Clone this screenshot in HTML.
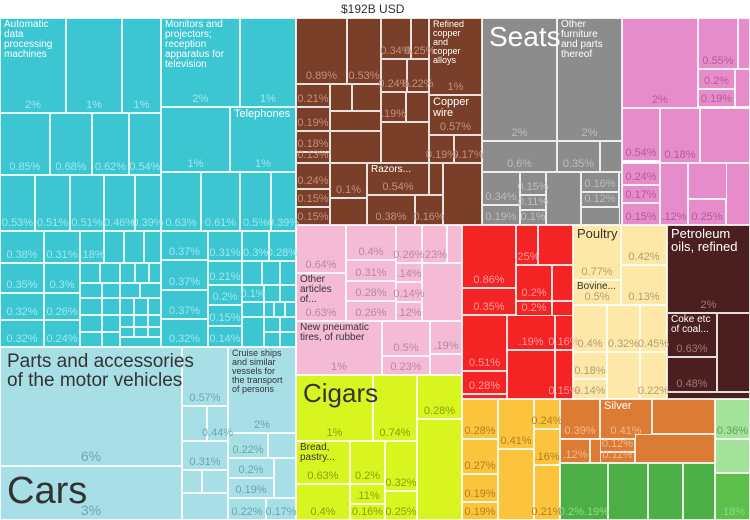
<!DOCTYPE html>
<html><head><meta charset="utf-8"><style>
body{margin:0;width:750px;height:520px;background:#fff;position:relative;overflow:hidden;font-family:"Liberation Sans",sans-serif}
.c{position:absolute;box-sizing:border-box;border:1px solid rgba(255,255,255,.85)}
.t{position:absolute;left:3px;top:1px;line-height:1.0;white-space:pre;z-index:2}
.p{position:absolute;left:-20px;right:-20px;bottom:1px;text-align:center;font-size:11px;white-space:nowrap;z-index:1}
#title{position:absolute;left:341px;top:2px;font-size:12px;color:#333}
</style></head><body>
<div id="title">$192B USD</div>
<div id="tm"></div>
<script>
const T='#3cc6d2',L='#a8dfe7',B='#7a3f28',G='#8c8c8c',K='#e78ccb',P='#f4bad6',R='#f42424',Y='#fde8a8',D='#4b1f1f',Z='#d9f520',O='#fcc43c',C='#dc7b34',N='#4caf45',E='#a3e39a',F='#5cc04a';
const tc={[T]:'#9ee8ef',[L]:'#6aa6b0',[B]:'#c09080',[G]:'#bdbdbd',[K]:'#b65a9a',[P]:'#b58aa0',[R]:'#ff9a9a',[Y]:'#b0a070',[D]:'#a07878',[Z]:'#8aa010',[O]:'#b08020',[C]:'#f5b890',[N]:'#90d88a',[E]:'#60a060',[F]:'#90d88a'};
const rects=[
[0,18,66,95,T,'Automatic\ndata\nprocessing\nmachines',10,'2%'],[66,18,56,95,T,'',0,'1%'],[122,18,39,95,T,'',0,'1%'],
[161,18,79,89,T,'Monitors and\nprojectors;\nreception\napparatus for\ntelevision',10,'2%'],[240,18,56,89,T,'',0,'1%'],
[0,113,50,62,T,'',0,'0.85%'],[50,113,42,62,T,'',0,'0.68%'],[92,113,37,62,T,'',0,'0.62%'],[129,113,32,62,T,'',0,'0.54%'],
[161,107,69,65,T,'',0,'1%'],[230,107,66,65,T,'Telephones',11,'1%'],
[0,175,35,56,T,'',0,'0.53%'],[35,175,35,56,T,'',0,'0.51%'],[70,175,34,56,T,'',0,'0.51%'],[104,175,31,56,T,'',0,'0.46%'],[135,175,26,56,T,'',0,'0.39%'],
[161,172,40,59,T,'',0,'0.63%'],[201,172,39,59,T,'',0,'0.61%'],[240,172,31,59,T,'',0,'0.5%'],[271,172,25,59,T,'',0,'0.39%'],
[0,231,44,32,T,'',0,'0.38%'],[0,263,44,30,T,'',0,'0.35%'],[0,293,44,27,T,'',0,'0.32%'],[0,320,44,27,T,'',0,'0.32%'],
[44,231,36,32,T,'',0,'0.31%'],[44,263,36,30,T,'',0,'0.3%'],[44,293,36,27,T,'',0,'0.26%'],[44,320,36,27,T,'',0,'0.24%'],
[80,231,24,32,T,'',0,'.18%'],[104,231,20,32,T,'',0,''],[124,231,20,32,T,'',0,''],[144,231,17,32,T,'',0,''],
[80,263,20,20,T,'',0,''],[100,263,20,20,T,'',0,''],[120,263,15,20,T,'',0,''],[135,263,14,20,T,'',0,''],[149,263,12,20,T,'',0,''],
[80,283,22,15,T,'',0,''],[102,283,18,15,T,'',0,''],[120,283,20,15,T,'',0,''],[140,283,21,15,T,'',0,''],
[80,298,22,17,T,'',0,''],[102,298,18,17,T,'',0,''],[120,298,14,17,T,'',0,''],[134,298,14,17,T,'',0,''],[148,298,13,17,T,'',0,''],
[80,315,22,17,T,'',0,''],[102,315,18,17,T,'',0,''],[120,315,14,12,T,'',0,''],[134,315,14,12,T,'',0,''],[148,315,13,12,T,'',0,''],
[80,332,22,15,T,'',0,''],[102,332,18,15,T,'',0,''],[120,327,14,10,T,'',0,''],[134,327,14,10,T,'',0,''],[148,327,13,10,T,'',0,''],[120,337,41,10,T,'',0,''],
[161,231,47,29,T,'',0,'0.37%'],[161,260,47,30,T,'',0,'0.37%'],[161,290,47,29,T,'',0,'0.37%'],[161,319,47,28,T,'',0,'0.32%'],
[208,231,34,30,T,'',0,'0.31%'],[242,231,27,30,T,'',0,'0.3%'],[269,231,27,30,T,'',0,'0.28%'],
[208,261,34,24,T,'',0,'0.21%'],[242,261,20,24,T,'',0,''],[262,261,18,24,T,'',0,''],[280,261,16,24,T,'',0,''],
[208,285,34,20,T,'',0,'0.2%'],[242,285,22,17,T,'',0,'0.1%'],[264,285,16,17,T,'',0,''],[280,285,16,17,T,'',0,''],
[208,305,34,21,T,'',0,'0.15%'],[208,326,34,21,T,'',0,'0.14%'],[242,302,22,15,T,'',0,''],[264,302,10,15,T,'',0,''],[274,302,11,15,T,'',0,''],[285,302,11,15,T,'',0,''],
[242,317,22,30,T,'',0,''],[264,317,16,15,T,'',0,''],[280,317,16,15,T,'',0,''],[264,332,16,15,T,'',0,''],[280,332,16,15,T,'',0,''],
[182,347,46,59,L,'',0,'0.57%'],[182,406,25,35,L,'',0,''],[207,406,21,35,L,'',0,'0.44%'],[182,441,46,29,L,'',0,'0.31%'],[182,470,20,23,L,'',0,''],[202,470,26,23,L,'',0,''],[182,493,46,27,L,'',0,''],
[228,347,68,86,L,'Cruise ships\nand similar\nvessels for\nthe transport\nof persons',9,'2%'],[228,433,40,25,L,'',0,'0.22%'],[268,433,28,25,L,'',0,''],[228,458,46,20,L,'',0,'0.2%'],[228,478,46,20,L,'',0,'0.19%'],[274,458,22,40,L,'',0,''],[228,498,38,22,L,'',0,'0.22%'],[266,498,30,22,L,'',0,'0.17%'],
[0,347,182,119,L,'Parts and accessories\nof the motor vehicles',19,'6%'],[0,466,182,54,L,'Cars',38,'3%'],
[296,18,51,66,B,'',0,'0.89%'],[347,18,34,66,B,'',0,'0.53%'],[381,18,30,41,B,'',0,'0.34%'],[411,18,18,41,B,'',0,'0.25%'],[381,59,26,33,B,'',0,'0.24%'],[407,59,22,33,B,'',0,'0.22%'],
[429,18,53,77,B,'Refined\ncopper\nand\ncopper\nalloys',9,'1%'],[429,95,53,40,B,'Copper\nwire',11,'0.57%'],[429,135,25,28,B,'',0,'0.19%'],[454,135,28,28,B,'',0,'0.17%'],
[296,84,34,23,B,'',0,'0.21%'],[296,107,34,24,B,'',0,'0.19%'],[296,131,34,21,B,'',0,'0.18%'],[296,152,34,11,B,'',0,'0.13%'],[330,84,22,27,B,'',0,''],[352,84,29,27,B,'',0,''],[330,111,51,20,B,'',0,''],[330,131,51,32,B,'',0,''],
[381,92,25,30,B,'',0,'.19%'],[406,92,23,30,B,'',0,''],[381,122,48,41,B,'',0,''],
[296,163,34,26,B,'',0,'0.24%'],[296,189,34,18,B,'',0,'0.15%'],[296,207,34,18,B,'',0,'0.15%'],[330,163,37,35,B,'',0,'0.1%'],[330,198,37,27,B,'',0,''],
[367,163,62,32,B,'Razors...',10,'0.54%'],[367,195,48,30,B,'',0,'0.38%'],[415,195,28,30,B,'',0,'0.16%'],[443,163,39,62,B,'',0,''],[429,163,14,32,B,'',0,''],
[482,18,75,123,G,'Seats',28,'2%'],[557,18,65,123,G,'Other\nfurniture\nand parts\nthereof',10,'2%'],[482,141,75,31,G,'',0,'0.6%'],[557,141,43,31,G,'',0,'0.35%'],[600,141,22,31,G,''],
[482,172,38,33,G,'',0,'0.34%'],[482,205,38,20,G,'',0,'0.19%'],[520,172,26,23,G,'',0,'0.15%'],[520,195,26,15,G,'',0,'0.11%'],[520,210,26,15,G,'',0,'0.1%'],[546,172,35,53,G,'',0,''],[581,172,38,20,G,'',0,'0.16%'],[581,192,38,15,G,'',0,'0.12%'],[581,207,41,18,G,'',0,''],[619,172,3,53,G,'',0,''],
[622,18,76,90,K,'',0,'2%'],[698,18,40,51,K,'',0,'0.55%'],[738,18,12,51,K,'',0,''],[698,69,37,20,K,'',0,'0.2%'],[698,89,37,18,K,'',0,'0.19%'],[735,69,15,38,K,'',0,''],[622,108,38,53,K,'',0,'0.54%'],[660,108,40,55,K,'',0,'0.18%'],[700,108,50,55,K,'',0,''],
[622,163,38,22,K,'',0,'0.24%'],[622,185,38,18,K,'',0,'0.17%'],[622,203,38,22,K,'',0,'0.15%'],[660,163,28,62,K,'',0,'.12%'],[688,163,40,36,K,'',0,''],[688,199,38,26,K,'',0,'0.25%'],[726,163,24,62,K,'',0,''],
[296,225,50,48,P,'',0,'0.64%'],[296,273,50,48,P,'Other\narticles\nof...',10,'0.63%'],[346,225,50,35,P,'',0,'0.4%'],[346,260,50,21,P,'',0,'0.31%'],[346,281,50,20,P,'',0,'0.28%'],[346,301,50,20,P,'',0,'0.26%'],
[396,225,26,38,P,'',0,'0.26%'],[422,225,25,38,P,'',0,'.23%'],[447,225,15,38,P,''],[396,263,26,19,P,'',0,'.14%'],[396,282,26,20,P,'',0,'0.14%'],[396,302,26,19,P,'',0,'.12%'],[422,263,40,58,P,'',0,''],
[296,321,86,54,P,'New pneumatic\ntires, of rubber',10,'1%'],[382,321,48,35,P,'',0,'0.5%'],[382,356,48,19,P,'',0,'0.23%'],[430,321,32,33,P,'',0,'.19%'],[430,354,32,21,P,'',0,''],
[462,225,54,63,R,'',0,'0.86%'],[516,225,22,40,R,'',0,'.25%'],[538,225,35,40,R,''],[516,265,36,36,R,'',0,'0.2%'],[552,265,21,36,R,''],[462,288,54,27,R,'',0,'0.35%'],[516,301,36,15,R,'',0,'0.2%'],[552,301,21,15,R,''],
[462,315,45,56,R,'',0,'0.51%'],[462,371,45,23,R,'',0,'0.28%'],[462,394,45,5,R,'',0,''],[507,315,48,35,R,'',0,'.19%'],[555,315,18,35,R,'',0,'0.16%'],[507,350,48,49,R,'',0,''],[555,350,18,49,R,'',0,'0.15%'],
[621,225,46,40,Y,'',0,'0.42%'],[621,265,46,40,Y,'',0,'0.13%'],[573,305,34,47,Y,'',0,'0.4%'],[607,305,33,47,Y,'',0,'0.32%'],[640,305,27,47,Y,'',0,'0.45%'],[573,352,34,27,Y,'',0,'0.18%'],[573,379,34,20,Y,'',0,'0.14%'],[607,352,33,47,Y,''],[640,352,27,47,Y,'',0,'0.22%'],
[573,225,48,55,Y,'Poultry',13,'0.77%'],[573,280,48,25,Y,'Bovine...',10,'0.5%'],
[667,225,83,88,D,'Petroleum\noils, refined',13,'2%'],[667,313,50,44,D,'Coke etc\nof coal...',10,'0.63%'],[667,357,50,35,D,'',0,'0.48%'],[717,313,33,79,D,''],[667,392,83,7,D,''],
[296,375,77,66,Z,'Cigars',26,'1%'],[373,375,44,66,Z,'',0,'0.74%'],[417,375,45,44,Z,'',0,'0.28%'],[417,419,45,101,Z,''],
[296,441,54,43,Z,'Bread,\npastry...',10,'0.63%'],[350,441,35,43,Z,'',0,'0.2%'],[350,484,35,20,Z,'',0,'.11%'],[296,484,54,36,Z,'',0,'0.4%'],[350,504,35,16,Z,'',0,'0.16%'],[385,441,32,50,Z,'',0,'0.32%'],[385,491,32,29,Z,'',0,'0.25%'],
[462,399,36,40,O,'',0,'0.28%'],[462,439,36,35,O,'',0,'0.27%'],[462,474,36,28,O,'',0,'0.19%'],[462,502,36,18,O,'',0,'0.19%'],[498,399,36,50,O,'',0,'0.41%'],[534,399,26,30,O,'',0,'0.24%'],[534,429,26,36,O,'',0,'.16%'],[498,449,36,71,O,''],[534,465,26,55,O,'',0,'0.21%'],
[560,399,40,40,C,'',0,'0.39%'],[600,399,52,40,C,'Silver',11,'0.41%'],[652,399,63,35,C,''],[560,439,30,24,C,'',0,'.12%'],[590,439,20,24,C,''],[600,439,35,13,C,'',0,'0.12%'],[600,452,35,11,C,'',0,'0.11%'],[635,434,80,29,C,''],
[560,463,48,57,N,'',0,'0.2%.19%'],[608,463,40,57,N,''],[648,463,35,57,N,''],[683,463,32,57,N,''],
[715,399,35,40,E,'',0,'0.36%'],[715,439,35,34,E,''],[715,473,35,47,F,'',0,'.18%']
];
const root=document.getElementById('tm');
rects.forEach((r,i)=>{
  const d=document.createElement('div');
  d.className='c';
  
  
  d.style.cssText=`left:${r[0]}px;top:${r[1]}px;width:${r[2]}px;height:${r[3]}px;background:${r[4]}`;
  if(r[5]){const t=document.createElement('div');t.className='t';t.textContent=r[5];
    
    
    const dark=[L,P,Y,Z,O,E].includes(r[4]);t.style.color=dark?'#333':'#fff';t.style.fontSize=r[6]+'px';
    if(r[6]>=19){t.style.left='6px';t.style.top=(r[6]>30?5:4)+'px';}
    d.appendChild(t);}
  if(r[7]){const p=document.createElement('div');p.className='p';p.textContent=r[7];
    
    
    p.style.color=tc[r[4]];if(r[2]>150)p.style.fontSize='14px';d.appendChild(p);}
  root.appendChild(d);
});
</script>
</body></html>
